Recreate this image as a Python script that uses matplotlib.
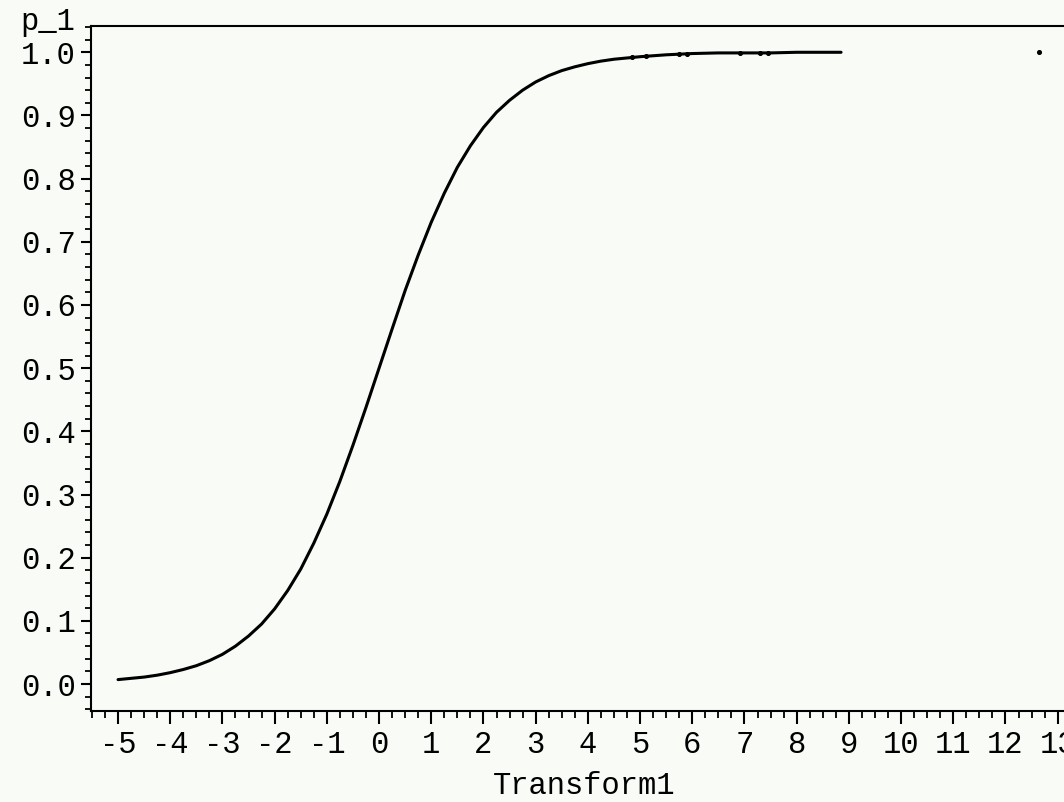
import matplotlib
matplotlib.use('Agg')
import matplotlib.pyplot as plt
from matplotlib.ticker import MultipleLocator, FixedLocator, FixedFormatter

# curve values (Transform1 vs p_1)
transform1 = [-5.0, -4.75, -4.5, -4.25, -4.0, -3.75, -3.5, -3.25, -3.0, -2.75,
              -2.5, -2.25, -2.0, -1.75, -1.5, -1.25, -1.0, -0.75, -0.5, -0.25,
              0.0, 0.25, 0.5, 0.75, 1.0, 1.25, 1.5, 1.75, 2.0, 2.25,
              2.5, 2.75, 3.0, 3.25, 3.5, 3.75, 4.0, 4.25, 4.5, 4.75,
              5.0, 5.5, 6.0, 6.5, 7.0, 7.5, 8.0, 8.5, 8.85]
p_1 = [0.007, 0.009, 0.011, 0.014, 0.018, 0.023, 0.029, 0.037, 0.047, 0.060,
       0.076, 0.095, 0.119, 0.148, 0.182, 0.223, 0.269, 0.321, 0.378, 0.438,
       0.500, 0.562, 0.623, 0.679, 0.731, 0.777, 0.818, 0.852, 0.881, 0.905,
       0.924, 0.940, 0.953, 0.963, 0.971, 0.977, 0.982, 0.986, 0.989, 0.991,
       0.993, 0.996, 0.998, 0.999, 0.999, 0.999, 1.000, 1.000, 1.000]

# visible individual points
dot_x = [4.84, 5.12, 5.74, 5.89, 6.91, 7.29, 7.46, 12.65]
dot_p = [0.992, 0.994, 0.997, 0.997, 0.999, 0.999, 0.999, 1.000]

x_ticks = list(range(-5, 15))
y_ticks = [0.0, 0.1, 0.2, 0.3, 0.4, 0.5, 0.6, 0.7, 0.8, 0.9, 1.0]

FONT = 'Liberation Mono'
FSIZE = 22
BG = '#f9fbf7'

fig = plt.figure(figsize=(10.64, 8.02), dpi=100, facecolor=BG)
ax = fig.add_axes([91 / 1064, 1 - 711 / 802, 1045 / 1064, 685 / 802])
ax.set_facecolor(BG)

ax.plot(transform1, p_1, color='black', linewidth=2.2, solid_capstyle='round')
ax.scatter(dot_x, dot_p, s=7, color='black', zorder=3)

ax.set_xlim(-5.518, 14.5)
ax.set_ylim(-0.0427, 1.0416)

ax.xaxis.set_major_locator(FixedLocator(x_ticks))
ax.xaxis.set_major_formatter(FixedFormatter([str(v) for v in x_ticks]))
ax.xaxis.set_minor_locator(MultipleLocator(0.25))
ax.yaxis.set_major_locator(FixedLocator(y_ticks))
ax.yaxis.set_major_formatter(FixedFormatter(['%.1f' % v for v in y_ticks]))
ax.yaxis.set_minor_locator(MultipleLocator(0.02))

for sp in ['left', 'bottom', 'top']:
    ax.spines[sp].set_linewidth(1.5)
ax.spines['right'].set_visible(False)

ax.tick_params(which='major', direction='out', length=7, width=1.5,
               labelsize=FSIZE, pad=4)
ax.tick_params(which='minor', direction='out', length=4, width=1.3)
ax.tick_params(axis='x', which='major', length=9, pad=5)
ax.tick_params(axis='x', which='minor', length=5)
for lab in ax.get_xticklabels() + ax.get_yticklabels():
    lab.set_fontfamily(FONT)

fig.text(20 / 1064, 1 - 37 / 802, 'p_1', fontsize=FSIZE, family=FONT,
         ha='left', va='bottom')
fig.text(584 / 1064, 1 - 786 / 802, 'Transform1', fontsize=FSIZE, family=FONT,
         ha='center', va='center')

plt.savefig('out.png', dpi=100, facecolor=BG)
